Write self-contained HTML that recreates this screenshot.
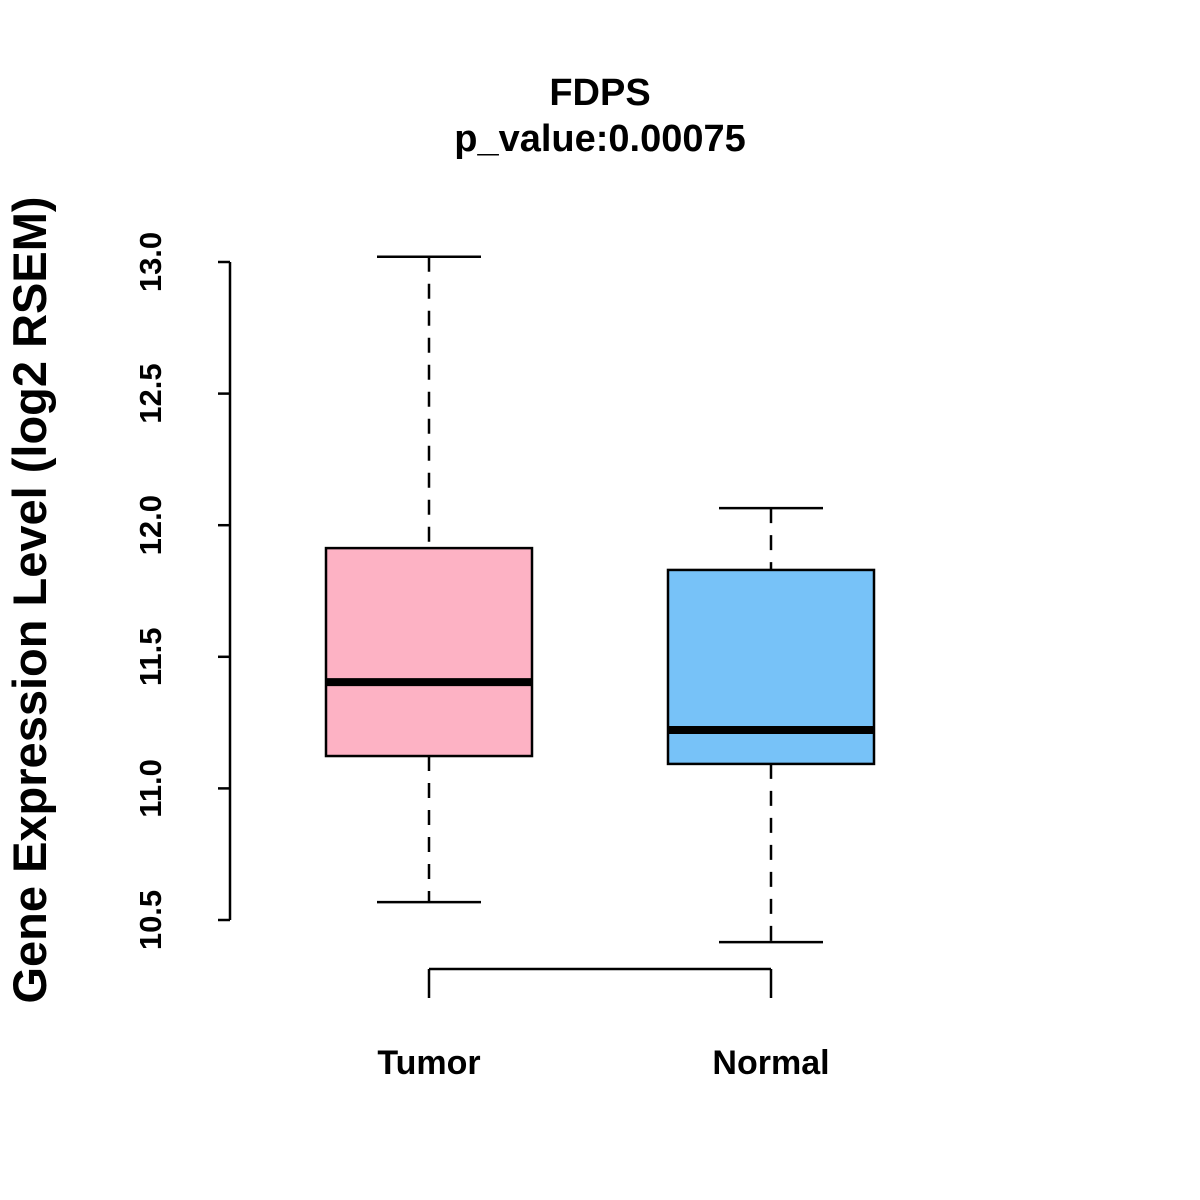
<!DOCTYPE html>
<html><head><meta charset="utf-8"><style>
html,body{margin:0;padding:0;background:#fff}
svg{display:block;font-family:"Liberation Sans",Arial,sans-serif}
</style></head><body>
<svg id="chart" width="1200" height="1200" viewBox="0 0 1200 1200">
<text x="600" y="105" text-anchor="middle" font-size="38" font-weight="bold">FDPS</text>
<text x="600" y="151" text-anchor="middle" font-size="38" font-weight="bold">p_value:0.00075</text>
<text transform="translate(46,600) rotate(-90)" text-anchor="middle" font-size="47" font-weight="bold">Gene Expression Level (log2 RSEM)</text>
<g id="plot"></g>
</svg>
<script>
const categories = ["Tumor", "Normal"];
const whiskerHigh = [13.02, 12.065];
const q3 = [11.913, 11.830];
const medians = [11.404, 11.222];
const q1 = [11.123, 11.093];
const whiskerLow = [10.568, 10.416];
const fills = ["#FDB2C4", "#77C2F8"];
const yTicks = [10.5, 11.0, 11.5, 12.0, 12.5, 13.0];
const yTickLabels = ["10.5", "11.0", "11.5", "12.0", "12.5", "13.0"];

const NS = "http://www.w3.org/2000/svg";
const g = document.getElementById("plot");
function y(v){ return 262 + (13 - v) * 263.2; }
function x(i){ return 429 + i * 342; }
function el(tag, attrs, parent){
  const e = document.createElementNS(NS, tag);
  for (const k in attrs) e.setAttribute(k, attrs[k]);
  (parent || g).appendChild(e);
  return e;
}
const ax = el("line", {x1:230, x2:230, y1:y(yTicks[yTicks.length-1]), y2:y(yTicks[0]), stroke:"#000", "stroke-width":2.5});


yTicks.forEach((t, i) => {
  const tk = el("line", {x1:218, x2:230, y1:y(t), y2:y(t), stroke:"#000", "stroke-width":2.5});
  
  
  const lb = el("text", {transform:`translate(161,${y(t)}) rotate(-90)`, "text-anchor":"middle", "font-size":31, "font-weight":"bold"});
  lb.textContent = yTickLabels[i];
  
  
});
const xa = el("line", {x1:x(0), x2:x(categories.length-1), y1:969, y2:969, stroke:"#000", "stroke-width":2.5});


categories.forEach((c, i) => {
  const cx = x(i);
  const tk = el("line", {x1:cx, x2:cx, y1:969, y2:998, stroke:"#000", "stroke-width":2.5});
  
  
  const lb = el("text", {x:cx, y:1074, "text-anchor":"middle", "font-size":34, "font-weight":"bold"});
  lb.textContent = c;
  
  
  const w1 = el("line", {x1:cx, x2:cx, y1:y(whiskerHigh[i]), y2:y(q3[i]), stroke:"#000", "stroke-width":2.5, "stroke-dasharray":"15,12"});
  
  
  const w2 = el("line", {x1:cx, x2:cx, y1:y(q1[i]), y2:y(whiskerLow[i]), stroke:"#000", "stroke-width":2.5, "stroke-dasharray":"15,12"});
  
  
  const c1 = el("line", {x1:cx-52, x2:cx+52, y1:y(whiskerHigh[i]), y2:y(whiskerHigh[i]), stroke:"#000", "stroke-width":2.5});
  
  
  const c2 = el("line", {x1:cx-52, x2:cx+52, y1:y(whiskerLow[i]), y2:y(whiskerLow[i]), stroke:"#000", "stroke-width":2.5});
  
  
  const bx = el("rect", {x:cx-103, y:y(q3[i]), width:206, height:y(q1[i])-y(q3[i]), fill:fills[i], stroke:"#000", "stroke-width":2.5});
  
  
  const md = el("line", {x1:cx-103, x2:cx+103, y1:y(medians[i]), y2:y(medians[i]), stroke:"#000", "stroke-width":8});
  
  
});
</script>
</body></html>
